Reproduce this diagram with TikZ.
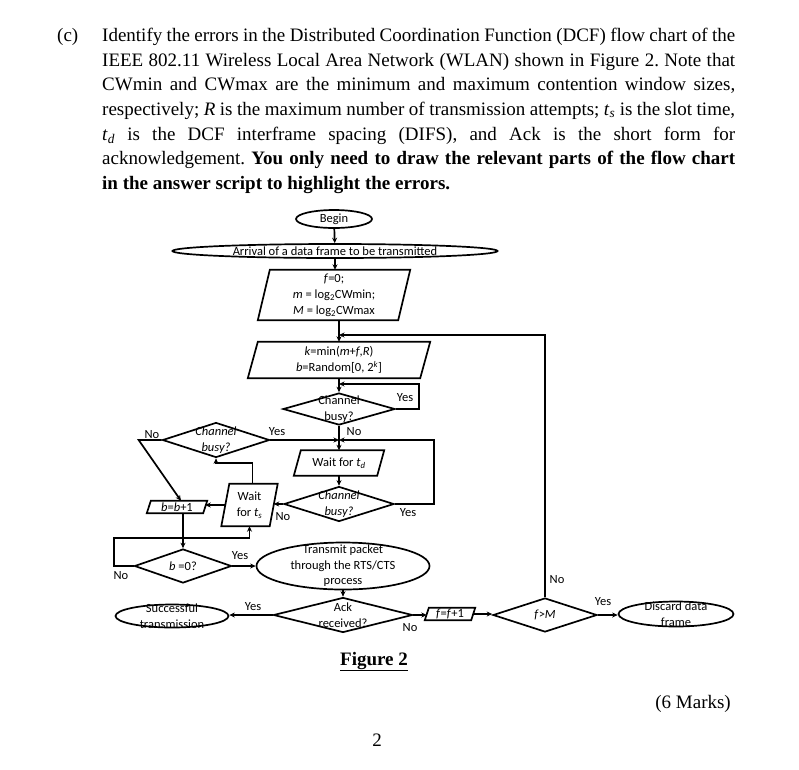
\documentclass[tikz,border=0pt]{standalone}
\usepackage{fontspec}
\setmainfont{Liberation Serif}
\newfontfamily\bodyfont{Liberation Serif}
\newfontfamily\chartfont{Carlito}
\usetikzlibrary{shapes.geometric, arrows.meta}
\frenchspacing
\tikzset{
 ln/.style={line width=1.7pt},
 arr/.style={ln, -{Stealth[length=5.5pt,width=5pt]}},
 ctext/.style={font=\chartfont\fontsize{12.5}{15.5}\selectfont, align=center, inner sep=0pt},
 ell/.style={ellipse, draw, ln, inner sep=0pt},
 dia/.style={diamond, draw, ln, inner sep=0pt},
 pbox/.style={rectangle, draw=none, inner sep=0pt},
 lab/.style={font=\chartfont\fontsize{12.5}{14}\selectfont, inner sep=0pt},
 body/.style={font=\bodyfont\fontsize{19}{22}\selectfont, anchor=base west, inner sep=0pt},
}
\newcommand{\itx}[1]{\textit{#1}}
% parallelogram drawn round a rectangle node: #1 node name, #2 half of the slant offset
\newcommand{\drawpara}[2]{\draw[ln] ([xshift=-#2]#1.south west) -- ([xshift=-#2]#1.south east) -- ([xshift=#2]#1.north east) -- ([xshift=#2]#1.north west) -- cycle;}
\begin{document}
\begin{tikzpicture}[x=1pt,y=-1pt]
\useasboundingbox (0,0) rectangle (799,769);
% ---- question text
\node[body] (c) at (57,41.3) {(c)};
\node[body] (l1) at (102,41.3) {\makebox[633pt][s]{Identify the errors in the Distributed Coordination Function (DCF) flow chart of the}};
\node[body] (l2) at (102,66) {\makebox[633pt][s]{IEEE 802.11 Wireless Local Area Network (WLAN) shown in Figure 2. Note that}};
\node[body] (l3) at (102,90.7) {\makebox[633pt][s]{CWmin and CWmax are the minimum and maximum contention window sizes,}};
\node[body] (l4) at (102,115.4) {\makebox[633pt][s]{respectively; \textit{R} is the maximum number of transmission attempts; \textit{t}\textsubscript{\textit{s}} is the slot time,}};
\node[body] (l5) at (102,140.1) {\makebox[633pt][s]{\textit{t}\textsubscript{\textit{d}} is the DCF interframe spacing (DIFS), and Ack is the short form for}};
\node[body] (l6) at (102,164.8) {\makebox[633pt][s]{acknowledgement. \textbf{You only need to draw the relevant parts of the flow chart}}};
\node[body] (l7) at (102,189.5) {\textbf{in the answer script to highlight the errors.}};
% ---- flow chart shapes
\node[ell, minimum width=76pt, minimum height=18pt, label={[ctext]center:Begin}] (begin) at (334,219) {};
\node[ell, minimum width=325pt, minimum height=14pt, label={[ctext]center:Arrival of a data frame to be transmitted}] (arrival) at (335,251) {};
\node[pbox, minimum width=140pt, minimum height=50pt,
  label={[ctext, font=\chartfont\fontsize{12.5}{16}\selectfont]center:{\itx{f}=0;\\ \itx{m} = log\textsubscript{2}CWmin;\\ \itx{M} = log\textsubscript{2}CWmax}}] (p1) at (334,295) {};
\drawpara{p1}{6pt}
\node[pbox, minimum width=172pt, minimum height=36pt,
  label={[ctext]center:{\itx{k}=min(\itx{m}+\itx{f},\itx{R})\\ \itx{b}=Random[0, 2\textsuperscript{\itx{k}}]}}] (p2) at (339,360) {};
\drawpara{p2}{5pt}
\node[dia, minimum width=112pt, minimum height=32pt, label={[ctext]center:{Channel\\busy?}}] (cb1) at (339,409) {};
\node[dia, minimum width=107pt, minimum height=35pt, label={[ctext]center:{\itx{Channel}\\\itx{busy?}}}] (cb2) at (216,440) {};
\node[pbox, minimum width=83pt, minimum height=25pt,
  label={[ctext]center:{Wait for \itx{t}\textsubscript{\itx{d}}}}] (td) at (339,463) {};
\drawpara{td}{3.5pt}
\node[dia, minimum width=110pt, minimum height=35pt, label={[ctext]center:{\itx{Channel}\\\itx{busy?}}}] (cb3) at (339,504) {};
\node[pbox, minimum width=48pt, minimum height=42pt,
  label={[ctext, font=\chartfont\fontsize{12.5}{16}\selectfont]center:{Wait\\for \itx{t}\textsubscript{\itx{s}}}}] (ts) at (249.5,505) {};
\drawpara{ts}{4pt}
\node[pbox, minimum width=56pt, minimum height=12pt,
  label={[ctext]center:{\itx{b}=\itx{b}+1}}] (b1) at (177,507) {};
\drawpara{b1}{2pt}
\node[dia, minimum width=97pt, minimum height=34pt, label={[ctext]center:{\itx{b} =0?}}] (bz) at (183,566) {};
\node[ell, minimum width=173pt, minimum height=47pt, label={[ctext]center:{Transmit packet\\through the RTS/CTS\\process}}] (tx) at (343,566) {};
\node[dia, minimum width=139pt, minimum height=35pt, label={[ctext]center:{Ack\\received?}}] (ack) at (343,615) {};
\node[ell, minimum width=113pt, minimum height=23pt, label={[ctext]center:{Successful\\transmission}}] (succ) at (172,616) {};
\node[pbox, minimum width=46pt, minimum height=12pt,
  label={[ctext]center:{\itx{f}=\itx{f}+1}}] (ff) at (450,614) {};
\drawpara{ff}{2pt}
\node[dia, minimum width=104pt, minimum height=34pt, label={[ctext]center:{\itx{f}>\itx{M}}}] (fm) at (545,615) {};
\node[ell, minimum width=115pt, minimum height=25pt, label={[ctext]center:{Discard data\\frame}}] (disc) at (676,614) {};
% ---- junctions
\coordinate (j1) at (339,335);
\coordinate (j2) at (339,384);
\coordinate (j3) at (339,440);
% ---- connectors
\draw[arr] (begin) -- (arrival);
\draw[arr] (arrival.south) -- (arrival.south |- p1.north);
\draw[arr] (p1.south -| j1) -- (p2.north -| j1);
\draw[arr] (p2.south) -- (cb1.north);
\draw[arr] (cb1.east) -- ++(23,0) |- (j2);
\draw[arr] (cb1.south) -- (td.north);
\draw[arr] (cb2.east) -- (j3);
\draw[arr] (td.south) -- (cb3.north);
\draw[arr] (cb3.east) -- ++(39,0) |- (j3);
\draw[arr] (cb3.west) -- (cb3.west -| ts.east);
\draw[arr] (ts.west) -- (ts.west -| b1.east);
\draw[arr] ([xshift=3pt]ts.north) -- ++(0,-21) -| (cb2.south);
\draw[arr] (cb2.west) -- ++(-23,0) -- ([xshift=4pt]b1.north);
\draw[arr] (b1.south -| bz.north) -- (bz.north);
\draw[arr] (bz.west) -- ++(-20,0) -- ++(0,-28) -| (ts.south);
\draw[arr] (bz.east) -- (tx.west);
\draw[arr] (tx.south) -- (ack.north);
\draw[arr] (ack.west) -- (ack.west -| succ.east);
\draw[arr] (ack.east) -- (ack.east -| ff.west);
\draw[arr] (ff.east) -- (ff.east -| fm.west);
\draw[arr] (fm.east) -- (fm.east -| disc.west);
\draw[arr] (fm.north) |- (j1);
% ---- branch labels
\node[lab] (y1) at (405,398) {Yes};
\node[lab] (n1) at (354,432) {No};
\node[lab] (y2) at (277,432) {Yes};
\node[lab] (n2) at (152,435) {No};
\node[lab] (y3) at (408,513) {Yes};
\node[lab] (n3) at (283,517) {No};
\node[lab] (y4) at (240,556) {Yes};
\node[lab] (n4) at (121,576) {No};
\node[lab] (y5) at (253,607) {Yes};
\node[lab] (n5) at (410,628) {No};
\node[lab] (n6) at (557,580) {No};
\node[lab] (y6) at (603,602) {Yes};
% ---- caption and footer
\node[font=\fontsize{19}{22}\selectfont\bfseries, inner sep=0pt, anchor=base] (fig) at (374,665) {\underline{Figure 2}};
\node[font=\bodyfont\fontsize{19}{22}\selectfont, inner sep=0pt, anchor=base east] (marks) at (731,708) {(6 Marks)};
\node[font=\bodyfont\fontsize{19}{22}\selectfont, inner sep=0pt, anchor=base] (page) at (377,746) {2};
\end{tikzpicture}
\end{document}
